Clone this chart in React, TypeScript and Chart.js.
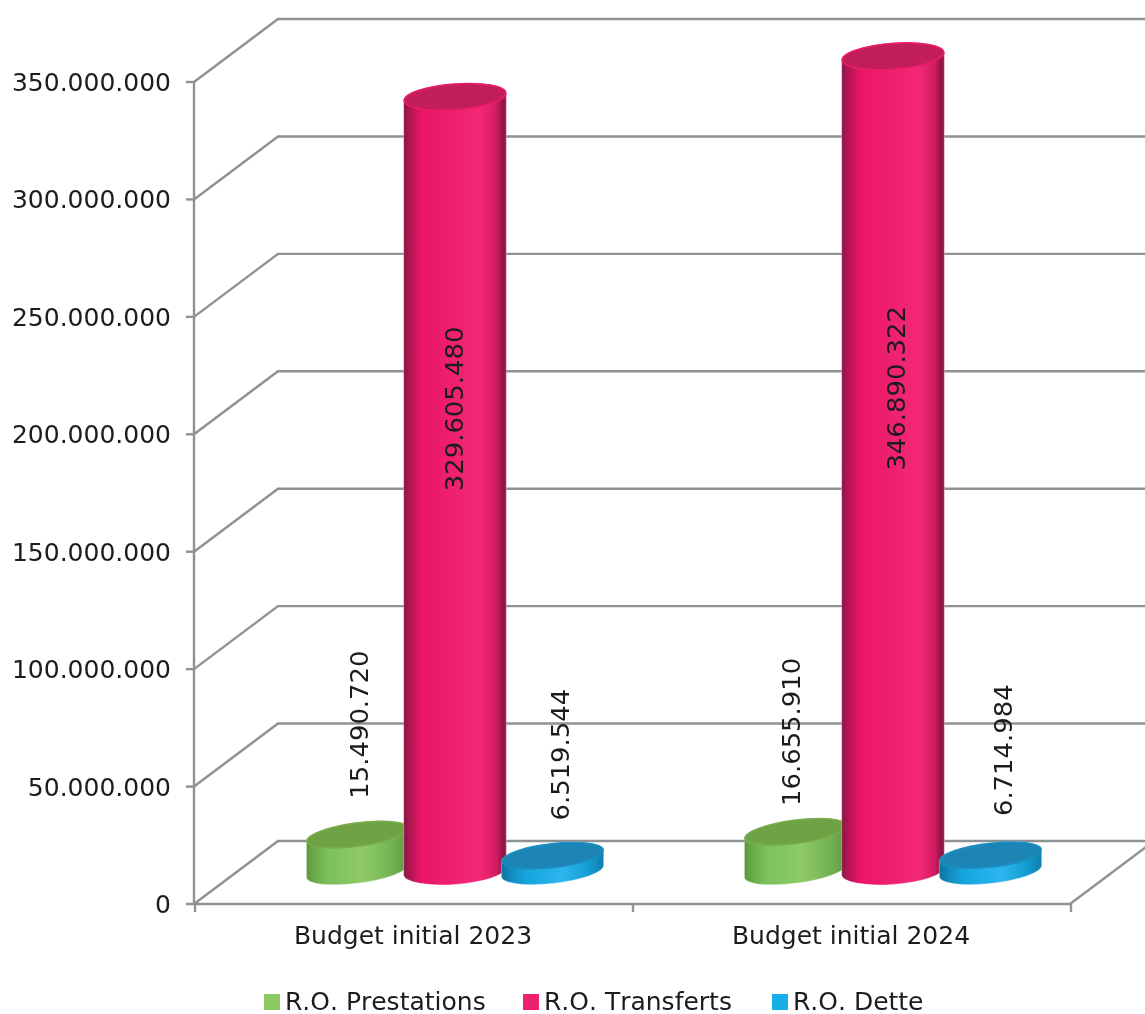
import React, { useEffect, useRef } from "react";
import { Chart, registerables } from "chart.js";

Chart.register(...registerables);

const categories = ["Budget initial 2023", "Budget initial 2024"];
const prestations = [15490720, 16655910];
const transferts = [329605480, 346890322];
const dette = [6519544, 6714984];
const seriesNames = ["R.O. Prestations", "R.O. Transferts", "R.O. Dette"];
const yTicks = [0, 50000000, 100000000, 150000000, 200000000, 250000000, 300000000, 350000000];

const FONT = '"DejaVu Sans", Verdana, sans-serif';
const TEXT = "#1c1c1c";
const GRID = "#8f9292";
const DEPTH_X = 42;
const FRONT_Y = 33;
const BACK_Y = 30;

const looks = [
  { swatch: "#8cc863", cap: "#6fa245", rim: "#79ad4e", tilt: 7.5, ry: 12.2,
    stops: [[0, "#5d9640"], [0.08, "#6aa94a"], [0.22, "#7cc15b"], [0.55, "#8fca67"], [0.85, "#72b252"], [1, "#5c9640"]] },
  { swatch: "#ee2070", cap: "#c21e5a", rim: "#ec1c6c", tilt: 4.4, ry: 13.4,
    stops: [[0, "#8a1544"], [0.05, "#a81750"], [0.17, "#ea1566"], [0.45, "#ee1f6e"], [0.75, "#f22876"], [0.9, "#d51c62"], [0.97, "#8f1545"], [1, "#a0194f"]] },
  { swatch: "#18ade6", cap: "#1d85b5", rim: "#1c90c4", tilt: 6.5, ry: 12.4,
    stops: [[0, "#0f72a0"], [0.1, "#128cc0"], [0.25, "#14a6dd"], [0.6, "#2db5ee"], [0.85, "#149dd2"], [1, "#0f7eae"]] },
];

// label shift [dx, dy of the label's centre from the top of the bar]
const labelShift = [
  [[4, -110], [-2, -100]],
  [[1, 312], [5, 332]],
  [[10, -101], [15, -105]],
];

const fmt = (v: number) => String(v).replace(/\B(?=(\d{3})+(?!\d))/g, ".");

function line(ctx: CanvasRenderingContext2D, x1: number, y1: number, x2: number, y2: number) {
  ctx.beginPath();
  ctx.moveTo(x1, y1);
  ctx.lineTo(x2, y2);
  ctx.stroke();
}

function drawCylinder(ctx: CanvasRenderingContext2D, bar: any, look: any) {
  const { x, y, base, width } = bar.getProps(["x", "y", "base", "width"], true);
  const rx = width / 2;
  const phi = (-look.tilt * Math.PI) / 180;
  const ry = look.ry;
  const t0 = Math.atan((ry / rx) * Math.tan(-phi));
  const ex = rx * Math.cos(t0) * Math.cos(phi) - ry * Math.sin(t0) * Math.sin(phi);
  const ey = rx * Math.cos(t0) * Math.sin(phi) + ry * Math.sin(t0) * Math.cos(phi);
  const grad = ctx.createLinearGradient(x - ex, 0, x + ex, 0);
  look.stops.forEach((s: any) => grad.addColorStop(s[0], s[1]));
  ctx.save();
  ctx.beginPath();
  ctx.moveTo(x + ex, y + ey);
  ctx.ellipse(x, base, rx, ry, phi, t0, t0 + Math.PI, false);
  ctx.ellipse(x, y, rx, ry, phi, t0 + Math.PI, t0 + 2 * Math.PI, false);
  ctx.closePath();
  ctx.fillStyle = grad;
  ctx.fill();
  ctx.strokeStyle = "rgba(255,255,255,0.35)";
  ctx.lineWidth = 1;
  ctx.stroke();
  ctx.beginPath();
  ctx.ellipse(x, y, rx - 0.5, ry - 0.5, phi, 0, 2 * Math.PI);
  ctx.fillStyle = look.cap;
  ctx.fill();
  ctx.strokeStyle = look.rim;
  ctx.lineWidth = 1.5;
  ctx.stroke();
  ctx.restore();
}

const scene3d = {
  id: "scene3d",
  beforeDatasetsDraw(chart: any) {
    const { ctx, chartArea: a, scales } = chart;
    const yS = scales.y;
    const xS = scales.x;
    const fx = a.left - DEPTH_X;
    const bx = a.left + DEPTH_X;
    const zero = yS.getPixelForValue(0);
    ctx.save();
    ctx.strokeStyle = GRID;
    ctx.lineWidth = 2.4;
    yTicks.forEach((v) => {
      const p = yS.getPixelForValue(v);
      line(ctx, fx, p + FRONT_Y, bx, p - BACK_Y);
      line(ctx, bx - 1, p - BACK_Y, a.right + DEPTH_X, p - BACK_Y);
      line(ctx, fx - 8, p + FRONT_Y, fx, p + FRONT_Y);
    });
    line(ctx, fx, yS.getPixelForValue(350000000) + FRONT_Y, fx, zero + FRONT_Y);
    line(ctx, fx, zero + FRONT_Y, a.right - DEPTH_X, zero + FRONT_Y);
    line(ctx, a.right - DEPTH_X, zero + FRONT_Y, a.right + DEPTH_X, zero - BACK_Y);
    const edges = [a.left, (xS.getPixelForValue(0) + xS.getPixelForValue(1)) / 2, a.right];
    edges.forEach((e) => line(ctx, e - DEPTH_X + 1, zero + FRONT_Y, e - DEPTH_X + 1, zero + FRONT_Y + 8));
    chart.data.datasets.forEach((_: any, i: number) => {
      chart.getDatasetMeta(i).data.forEach((bar: any) => drawCylinder(ctx, bar, looks[i]));
    });
    ctx.restore();
    return false;
  },
  afterDraw(chart: any) {
    const { ctx } = chart;
    ctx.save();
    ctx.font = `25px ${FONT}`;
    ctx.fillStyle = TEXT;
    ctx.textAlign = "center";
    ctx.textBaseline = "middle";
    chart.data.datasets.forEach((ds: any, i: number) => {
      chart.getDatasetMeta(i).data.forEach((bar: any, j: number) => {
        const { x, y } = bar.getProps(["x", "y"], true);
        ctx.save();
        ctx.translate(x + labelShift[i][j][0], y + labelShift[i][j][1]);
        ctx.rotate(-Math.PI / 2);
        ctx.scale(1.035, 1);
        ctx.fillText(fmt(ds.data[j]), 0, 0);
        ctx.restore();
      });
    });
    ctx.textAlign = "left";
    (ctx as any).fontKerning = "none";
    const legendY = 1002;
    const starts = [264, 523, 772];
    seriesNames.forEach((name, i) => {
      ctx.fillStyle = looks[i].swatch;
      ctx.fillRect(starts[i], legendY - 8, 16, 16);
      ctx.fillStyle = TEXT;
      ctx.fillText(name, starts[i] + 21, legendY + 1);
    });
    ctx.restore();
  },
};

export default function App() {
  const ref = useRef<HTMLCanvasElement>(null);
  useEffect(() => {
    document.body.style.margin = "0";
    const chart = new Chart(ref.current!, {
      type: "bar",
      data: {
        labels: categories,
        datasets: [prestations, transferts, dette].map((data, i) => ({
          label: seriesNames[i],
          data,
          backgroundColor: looks[i].swatch,
          categoryPercentage: 0.668,
          barPercentage: 1.056,
        })),
      },
      options: {
        animation: false,
        responsive: false,
        layout: { padding: { top: 49, right: 33, left: 0, bottom: 0 } },
        plugins: { legend: { display: false }, title: { display: false }, tooltip: { enabled: false } },
        scales: {
          x: {
            grid: { display: false, drawTicks: false },
            border: { display: false },
            ticks: { labelOffset: -DEPTH_X, padding: 51.5, color: TEXT, font: { family: FONT, size: 25 }, maxRotation: 0, autoSkip: false },
            afterFit: (s: any) => { s.height = 143; s.paddingLeft = 0; s.paddingRight = 0; },
          },
          y: {
            min: 0,
            max: 350000000,
            grid: { display: false, drawTicks: false },
            border: { display: false },
            afterBuildTicks: (s: any) => { s.ticks = yTicks.map((value) => ({ value })); },
            ticks: { labelOffset: FRONT_Y + 2.5, padding: 65, color: TEXT, font: { family: FONT, size: 25 }, callback: (v: any) => fmt(Number(v)) },
            afterFit: (s: any) => { s.width = 236; s.paddingTop = 0; s.paddingBottom = 0; },
          },
        },
      },
      plugins: [scene3d],
    } as any);
    return () => chart.destroy();
  }, []);
  return <canvas ref={ref} width={1145} height={1014} style={{ display: "block" }} />;
}
